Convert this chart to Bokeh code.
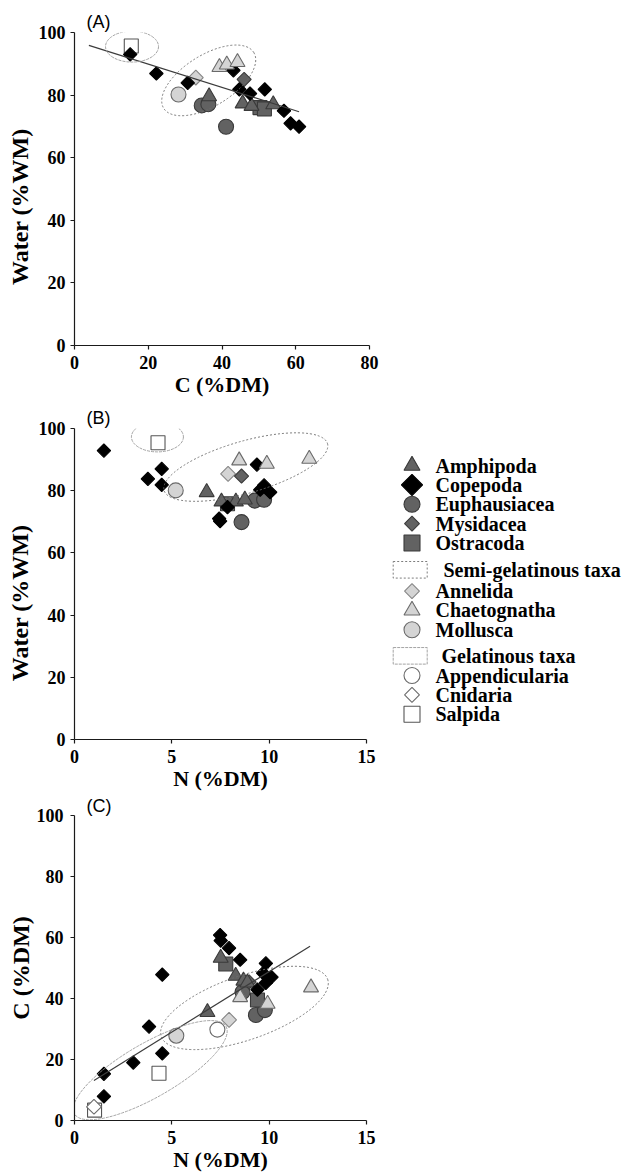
import numpy as np
from bokeh.plotting import figure
from bokeh.layouts import column, row
from bokeh.models import Range1d, FixedTicker
from bokeh.core.properties import value
from bokeh.embed import file_html
from bokeh.resources import INLINE

# ---------------- data ----------------
# Panel A : C (%DM) vs Water (%WM)
A_copepoda_x = [15.1, 22.2, 30.7, 43.1, 44.7, 47.6, 51.6, 56.8, 58.6, 60.9]
A_copepoda_y = [93.0, 86.9, 83.9, 87.9, 81.8, 80.5, 81.8, 75.0, 71.0, 69.9]
A_amphipoda_x = [36.5, 45.6, 48.0, 53.9]
A_amphipoda_y = [79.6, 77.3, 76.5, 77.0]
A_euphausiacea_x = [34.5, 36.3, 41.1]
A_euphausiacea_y = [76.7, 77.1, 69.9]
A_mysidacea_x = [46.0]
A_mysidacea_y = [85.0]
A_ostracoda_x = [50.3, 51.5]
A_ostracoda_y = [76.0, 75.6]
A_annelida_x = [32.9]
A_annelida_y = [85.6]
A_chaetognatha_x = [39.3, 41.3, 44.2]
A_chaetognatha_y = [88.9, 89.7, 90.5]
A_mollusca_x = [28.2]
A_mollusca_y = [80.2]
A_salpida_x = [15.4]
A_salpida_y = [95.7]

# Panel B : N (%DM) vs Water (%WM)
B_copepoda_x = [1.51, 3.77, 4.48, 4.48, 9.37, 9.74, 10.05, 9.54, 7.86, 7.48, 7.43]
B_copepoda_y = [92.9, 83.8, 87.0, 81.9, 88.4, 81.7, 79.5, 80.3, 74.7, 70.2, 71.0]
B_amphipoda_x = [6.79, 7.55, 8.29, 8.75]
B_amphipoda_y = [79.5, 76.5, 76.5, 77.1]
B_euphausiacea_x = [9.26, 9.74, 8.58]
B_euphausiacea_y = [76.8, 77.1, 69.9]
B_mysidacea_x = [8.58]
B_mysidacea_y = [84.7]
B_ostracoda_x = [7.86]
B_ostracoda_y = [75.8]
B_annelida_x = [7.89]
B_annelida_y = [85.4]
B_chaetognatha_x = [8.46, 9.88, 12.06]
B_chaetognatha_y = [89.7, 88.6, 90.2]
B_mollusca_x = [5.20]
B_mollusca_y = [80.1]
B_salpida_x = [4.29]
B_salpida_y = [95.4]

# Panel C : N (%DM) vs C (%DM)
C_copepoda_x = [1.51, 1.51, 3.02, 3.83, 4.51, 4.51, 7.48, 7.51, 7.94, 8.51, 9.83, 9.69, 10.12, 9.83, 9.40]
C_copepoda_y = [15.3, 7.9, 19.0, 30.8, 22.0, 47.8, 60.8, 59.0, 56.5, 52.7, 51.5, 48.3, 47.0, 45.1, 42.9]
C_amphipoda_x = [7.51, 8.28, 8.68, 8.88, 6.83]
C_amphipoda_y = [53.3, 47.4, 45.8, 45.2, 35.5]
C_euphausiacea_x = [9.32, 9.78, 8.63]
C_euphausiacea_y = [34.6, 36.2, 42.1]
C_mysidacea_x = [8.97]
C_mysidacea_y = [45.4]
C_ostracoda_x = [7.77, 9.40]
C_ostracoda_y = [51.3, 39.5]
C_annelida_x = [7.94]
C_annelida_y = [33.0]
C_chaetognatha_x = [8.51, 9.92, 12.15]
C_chaetognatha_y = [40.4, 38.2, 43.6]
C_mollusca_x = [5.23]
C_mollusca_y = [27.8]
C_appendicularia_x = [7.34]
C_appendicularia_y = [29.8]
C_cnidaria_x = [1.0]
C_cnidaria_y = [4.5]
C_salpida_x = [4.34, 1.03]
C_salpida_y = [15.5, 3.4]

# regression lines (slope, intercept, x extent)
fitA_slope, fitA_intercept, fitA_xext = -0.372, 97.35, [3.9, 60.9]
fitC_slope, fitC_intercept, fitC_xext = 3.966, 9.17, [1.0, 12.1]

# axis ticks / labels
A_xticks = [0, 20, 40, 60, 80]
N_xticks = [0, 5, 10, 15]
y_ticks = [0, 20, 40, 60, 80, 100]
water_title = "Water (%WM)"

# legend groups
legend_crustacea = ["Amphipoda", "Copepoda", "Euphausiacea", "Mysidacea", "Ostracoda"]
legend_semi = ["Annelida", "Chaetognatha", "Mollusca"]
legend_gel = ["Appendicularia", "Cnidaria", "Salpida"]
semi_title = "Semi-gelatinous taxa"
gel_title = "Gelatinous taxa"

# ---------------- styles ----------------
DARK, DARK_LINE = "#626262", "#3a3a3a"
LIGHT, LIGHT_LINE = "#d4d4d4", "#858585"
WHITE_LINE = "#6a6a6a"
D45 = np.pi / 4
STYLE = {
    "Amphipoda":      dict(marker="triangle", size=15, angle=0, fill_color=DARK, line_color=DARK_LINE),
    "Copepoda":       dict(marker="square", size=9.5, angle=D45, fill_color="black", line_color="black"),
    "Euphausiacea":   dict(marker="circle", size=15, angle=0, fill_color=DARK, line_color=DARK_LINE),
    "Mysidacea":      dict(marker="square", size=10, angle=D45, fill_color=DARK, line_color=DARK_LINE),
    "Ostracoda":      dict(marker="square", size=14, angle=0, fill_color=DARK, line_color=DARK_LINE),
    "Annelida":       dict(marker="square", size=10.5, angle=D45, fill_color=LIGHT, line_color=LIGHT_LINE),
    "Chaetognatha":   dict(marker="triangle", size=15, angle=0, fill_color=LIGHT, line_color="#6a6a6a"),
    "Mollusca":       dict(marker="circle", size=15, angle=0, fill_color=LIGHT, line_color="#6a6a6a"),
    "Appendicularia": dict(marker="circle", size=15, angle=0, fill_color="white", line_color=WHITE_LINE),
    "Cnidaria":       dict(marker="square", size=10.5, angle=D45, fill_color="white", line_color=WHITE_LINE),
    "Salpida":        dict(marker="square", size=14, angle=0, fill_color="white", line_color="#555555"),
}
SERIF = "Liberation Serif"
SANS = "Liberation Sans"
SEMI_LINE = dict(line_color="#6e6e6e", line_width=0.9, line_dash="2 2")
GEL_LINE = dict(line_color="#9a9a9a", line_width=0.9, line_dash="3 1")

WATER_W = 34            # width of the strip that holds the rotated y title
LEFT_BORDER = 74        # page x of the y axis


def blank_fig(w, h, xr, yr):
    p = figure(width=w, height=h, x_range=Range1d(*xr), y_range=Range1d(*yr),
               output_backend="svg", toolbar_location=None, min_border=0,
               x_axis_location=None, y_axis_location=None,
               background_fill_color="white", border_fill_color="white")
    p.outline_line_color = None
    p.xgrid.visible = False
    p.ygrid.visible = False
    return p


def make_fig(w, h, xr, bl, br, bt, bb, letter, title_standoff, ylab_standoff):
    p = figure(width=w, height=h, x_range=Range1d(*xr), y_range=Range1d(0, 100),
               output_backend="svg", toolbar_location=None,
               min_border_left=bl, min_border_right=br, min_border_top=bt, min_border_bottom=bb,
               background_fill_color="white", border_fill_color="white",
               title=letter)
    p.title.text_font = SANS
    p.title.text_font_style = "normal"
    p.title.text_font_size = "18px"
    p.title.text_color = "black"
    p.title.align = "left"
    p.title.offset = 12
    p.title.standoff = title_standoff
    p.outline_line_color = None
    p.xgrid.visible = False
    p.ygrid.visible = False
    for ax in (p.xaxis[0], p.yaxis[0]):
        ax.axis_line_color = "#1a1a1a"
        ax.axis_line_width = 1.2
        ax.major_tick_line_color = "#1a1a1a"
        ax.major_tick_line_width = 1.2
        ax.major_tick_out = 4
        ax.major_tick_in = 0
        ax.minor_tick_line_color = None
        ax.major_label_text_font = SERIF
        ax.major_label_text_font_style = "bold"
        ax.major_label_text_font_size = "18px"
        ax.major_label_text_color = "black"
        ax.axis_label_text_font = SERIF
        ax.axis_label_text_font_style = "bold"
        ax.axis_label_text_color = "black"
    p.xaxis.major_label_standoff = 6
    p.yaxis.major_label_standoff = ylab_standoff
    p.xaxis.axis_label_standoff = 0
    p.xaxis.axis_label_text_font_size = "22px"
    p.yaxis.axis_label_standoff = 0
    p.yaxis.axis_label_text_font_size = "24px"
    p.yaxis.ticker = FixedTicker(ticks=y_ticks)
    return p


def draw_points(p, series):
    for name, xs, ys in series:
        st = STYLE[name]
        p.scatter(xs, ys, line_width=1.1, **st)


def fit_line(p, slope, intercept, xext):
    xs = np.array(xext, dtype=float)
    p.line(xs, slope * xs + intercept, line_color="#3c3c3c", line_width=1.2)


def water_fig(h, centre_from_bottom):
    w = blank_fig(WATER_W, h, (0, WATER_W), (0, h))
    w.text(x=[19], y=[centre_from_bottom], text=[water_title], angle=np.pi / 2,
           text_font=value(SERIF), text_font_style="bold", text_font_size="24px",
           text_align="center", text_baseline="middle", text_color="black")
    return w


# ---------------- panel A ----------------
pA = make_fig(390 - WATER_W, 399, (0, 80), LEFT_BORDER - WATER_W, 21, 32, 52, "(A)", 1, 5)
pA.xaxis.ticker = FixedTicker(ticks=A_xticks)
pA.xaxis.axis_label = "C (%DM)"
draw_points(pA, [
    ("Salpida", A_salpida_x, A_salpida_y),
    ("Mollusca", A_mollusca_x, A_mollusca_y),
    ("Annelida", A_annelida_x, A_annelida_y),
    ("Euphausiacea", A_euphausiacea_x, A_euphausiacea_y),
    ("Ostracoda", A_ostracoda_x, A_ostracoda_y),
    ("Mysidacea", A_mysidacea_x, A_mysidacea_y),
    ("Amphipoda", A_amphipoda_x, A_amphipoda_y),
    ("Copepoda", A_copepoda_x, A_copepoda_y),
    ("Chaetognatha", A_chaetognatha_x, A_chaetognatha_y),
])
fit_line(pA, fitA_slope, fitA_intercept, fitA_xext)
pA.ellipse(x=[15.6], y=[95.5], width=[53], height=[31], angle=[0],
           width_units="screen", height_units="screen", fill_color=None, **GEL_LINE)
pA.ellipse(x=[36.4], y=[84.7], width=[106], height=[51], angle=[np.radians(31.8)],
           width_units="screen", height_units="screen", fill_color=None, **SEMI_LINE)
wA = water_fig(399, 399 - 222)

# ---------------- panel B ----------------
pB = make_fig(390 - WATER_W, 394, (0, 15), LEFT_BORDER - WATER_W, 24, 29, 54, "(B)", 1, 5)
pB.xaxis.ticker = FixedTicker(ticks=N_xticks)
pB.xaxis.axis_label = "N (%DM)"
draw_points(pB, [
    ("Salpida", B_salpida_x, B_salpida_y),
    ("Mollusca", B_mollusca_x, B_mollusca_y),
    ("Annelida", B_annelida_x, B_annelida_y),
    ("Euphausiacea", B_euphausiacea_x, B_euphausiacea_y),
    ("Ostracoda", B_ostracoda_x, B_ostracoda_y),
    ("Mysidacea", B_mysidacea_x, B_mysidacea_y),
    ("Amphipoda", B_amphipoda_x, B_amphipoda_y),
    ("Copepoda", B_copepoda_x, B_copepoda_y),
    ("Chaetognatha", B_chaetognatha_x, B_chaetognatha_y),
])
pB.ellipse(x=[4.26], y=[97.3], width=[52], height=[30], angle=[0],
           width_units="screen", height_units="screen", fill_color=None, **GEL_LINE)
pB.ellipse(x=[8.80], y=[87.6], width=[170], height=[52], angle=[np.radians(16)],
           width_units="screen", height_units="screen", fill_color=None, **SEMI_LINE)
wB = water_fig(394, 793 - 620)

# ---------------- legend (coordinates are page pixels) ----------------
pL = blank_fig(235, 394, (390, 625), (793, 399))
LEG_SIZE = {"Copepoda": 15, "Mysidacea": 10.5, "Annelida": 10.5, "Cnidaria": 10.5}
sym_x, txt_x, step = 411.5, 435, 24.5
LEG_FONT = dict(text_font=value(SERIF), text_font_style="bold", text_font_size="20px",
                text_baseline="middle", text_align="left", text_color="black")


def legend_items(names, y0):
    ys = [y0 + i * step for i in range(len(names))]
    for name, yy in zip(names, ys):
        st = dict(STYLE[name])
        st["size"] = LEG_SIZE.get(name, 16)
        pL.scatter([sym_x], [yy], line_width=1.1, **st)
    pL.text(x=[txt_x] * len(names), y=ys, text=names, **LEG_FONT)


legend_items(legend_crustacea, 446)
pL.rect(x=[409.7], y=[578], width=[34], height=[21], fill_color=None, **SEMI_LINE)
pL.text(x=[443], y=[578], text=[semi_title], **LEG_FONT)
legend_items(legend_semi, 605)
pL.rect(x=[409.7], y=[687], width=[34], height=[21], fill_color=None, **GEL_LINE)
pL.text(x=[441], y=[687], text=[gel_title], **LEG_FONT)
legend_items(legend_gel, 712)

# ---------------- panel C ----------------
pC = make_fig(390, 381, (0, 15), LEFT_BORDER, 24, 19, 52, "(C)", 0, 7)
pC.xaxis.ticker = FixedTicker(ticks=N_xticks)
pC.xaxis.axis_label = "N (%DM)"
pC.yaxis.axis_label = "C (%DM)"
draw_points(pC, [
    ("Salpida", C_salpida_x, C_salpida_y),
    ("Cnidaria", C_cnidaria_x, C_cnidaria_y),
    ("Appendicularia", C_appendicularia_x, C_appendicularia_y),
    ("Mollusca", C_mollusca_x, C_mollusca_y),
    ("Annelida", C_annelida_x, C_annelida_y),
    ("Euphausiacea", C_euphausiacea_x, C_euphausiacea_y),
    ("Ostracoda", C_ostracoda_x, C_ostracoda_y),
    ("Mysidacea", C_mysidacea_x, C_mysidacea_y),
    ("Amphipoda", C_amphipoda_x, C_amphipoda_y),
    ("Copepoda", C_copepoda_x, C_copepoda_y),
    ("Chaetognatha", C_chaetognatha_x, C_chaetognatha_y),
])
fit_line(pC, fitC_slope, fitC_intercept, fitC_xext)
pC.ellipse(x=[3.89], y=[16.5], width=[175], height=[54], angle=[np.radians(30)],
           width_units="screen", height_units="screen", fill_color=None, **GEL_LINE)
pC.ellipse(x=[8.73], y=[36.9], width=[176], height=[64], angle=[np.radians(19)],
           width_units="screen", height_units="screen", fill_color=None, **SEMI_LINE)

layout = column(row(wA, pA), row(wB, pB, pL), pC)
open("out.html", "w").write(file_html(layout, INLINE))
